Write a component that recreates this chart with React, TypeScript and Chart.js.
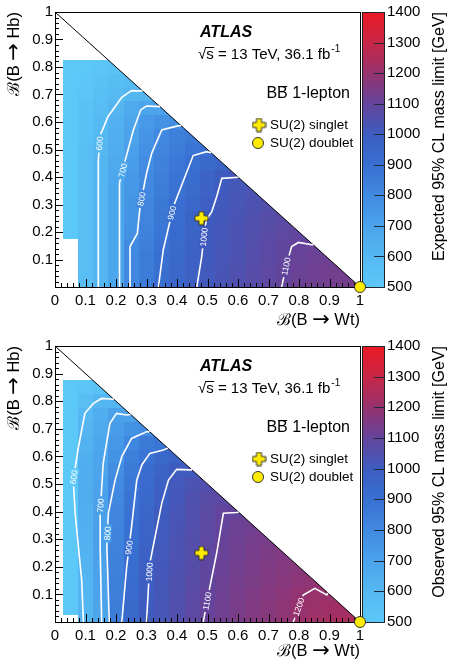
import React, { useEffect, useRef } from "react";
import { Chart, registerables } from "chart.js";

Chart.register(...registerables);

// ---------------- data ----------------
const gridStep = 0.05; // bin centres at multiples of 0.05 on both axes

const xTickValues = [0, 0.1, 0.2, 0.3, 0.4, 0.5, 0.6, 0.7, 0.8, 0.9, 1];
const xTickLabels = ["0", "0.1", "0.2", "0.3", "0.4", "0.5", "0.6", "0.7", "0.8", "0.9", "1"];
const yTickValues = [0.1, 0.2, 0.3, 0.4, 0.5, 0.6, 0.7, 0.8, 0.9, 1];
const yTickLabels = ["0.1", "0.2", "0.3", "0.4", "0.5", "0.6", "0.7", "0.8", "0.9", "1"];
const zTickValues = [500, 600, 700, 800, 900, 1000, 1100, 1200, 1300, 1400];

// Expected limit [GeV]; row k is B(B->Hb) = 0.05*k, entries start at B(B->Wt) = 0
const expectedRows: (number | null)[][] = [
  [null, null, 560, 612, 686, 804, 858, 909, 948, 988, 1012, 1030, 1049, 1067, 1085, 1102, 1115, 1124, 1130, 1133, 1135],
  [null, null, 560, 612, 686, 805, 855, 904, 943, 982, 1010, 1029, 1048, 1066, 1083, 1099, 1113, 1122, 1127, 1130],
  [null, null, 560, 612, 686, 804, 852, 900, 938, 977, 1007, 1025, 1043, 1060, 1077, 1095, 1108, 1116, 1120],
  [null, null, 560, 612, 686, 800, 845, 891, 932, 972, 1005, 1022, 1039, 1056, 1073, 1090, 1103, 1108],
  [null, 480, 560, 612, 686, 767, 829, 878, 924, 966, 1003, 1020, 1036, 1052, 1068, 1082, 1090],
  [null, 480, 560, 612, 686, 762, 824, 871, 917, 958, 1000, 1016, 1032, 1047, 1062, 1075],
  [null, 480, 560, 612, 686, 757, 818, 864, 908, 945, 983, 1010, 1026, 1040, 1055],
  [null, 480, 560, 612, 686, 750, 808, 850, 892, 932, 972, 1008, 1022, 1035],
  [null, 480, 560, 610, 680, 742, 802, 841, 880, 919, 960, 1000, 1015],
  [null, 480, 560, 608, 667, 727, 790, 831, 868, 904, 935, 960],
  [null, 480, 555, 605, 658, 712, 775, 815, 850, 880, 895],
  [null, 480, 545, 594, 645, 700, 760, 805, 840, 860],
  [null, 480, 540, 585, 632, 685, 735, 770, 790],
  [null, 480, 530, 570, 615, 660, 695, 700],
  [null, 480, 520, 555, 585, 610, 620],
  [null, 480, 510, 540, 565, 580],
  [null, 480, 500, 520, 540],
];

// Observed limit [GeV]
const observedRows: (number | null)[][] = [
  [null, null, 612, 695, 854, 938, 1000, 1027, 1054, 1081, 1105, 1126, 1144, 1162, 1171, 1189, 1206, 1220, 1230, 1238, 1242],
  [null, 480, 612, 695, 855, 935, 998, 1025, 1052, 1078, 1104, 1124, 1141, 1158, 1168, 1184, 1201, 1210, 1218, 1222],
  [null, 480, 614, 698, 848, 928, 993, 1022, 1048, 1073, 1098, 1120, 1137, 1152, 1164, 1178, 1193, 1203, 1202],
  [null, 480, 616, 700, 840, 920, 990, 1020, 1045, 1068, 1093, 1116, 1132, 1146, 1158, 1170, 1180, 1188],
  [null, 480, 620, 705, 834, 912, 985, 1017, 1042, 1064, 1088, 1111, 1128, 1142, 1153, 1163, 1170],
  [null, 480, 625, 708, 830, 904, 973, 1012, 1038, 1060, 1084, 1108, 1124, 1137, 1148, 1156],
  [null, 480, 633, 709, 828, 900, 963, 1008, 1035, 1058, 1081, 1104, 1120, 1132, 1140],
  [null, 480, 640, 708, 825, 896, 955, 1005, 1030, 1055, 1078, 1101, 1116, 1126],
  [null, 480, 645, 708, 818, 891, 945, 998, 1025, 1050, 1075, 1098, 1100],
  [null, 480, 650, 705, 808, 885, 937, 990, 1018, 1045, 1068, 1080],
  [null, 480, 650, 698, 802, 875, 930, 980, 1012, 1035, 1050],
  [null, 480, 648, 695, 790, 860, 920, 965, 1000, 1005],
  [null, 480, 640, 690, 770, 840, 890, 935, 960],
  [null, 480, 625, 680, 750, 812, 860, 880],
  [null, 480, 612, 668, 730, 770, 790],
  [null, 480, 600, 650, 705, 710],
  [null, 480, 560, 605, 610],
  [null, 480, 520, 540],
];

// contour lines: [B(B->Wt), B(B->Hb)] points
const expectedContour600 = [[0.142, 0], [0.142, 0.2], [0.142, 0.46], [0.148, 0.55], [0.174, 0.62], [0.219, 0.69], [0.251, 0.714], [0.287, 0.713]];
const expectedContour700 = [[0.21, 0], [0.21, 0.135], [0.213, 0.378], [0.23, 0.46], [0.257, 0.571], [0.281, 0.644], [0.3, 0.658], [0.344, 0.656]];
const expectedContour800 = [[0.246, 0], [0.246, 0.147], [0.27, 0.195], [0.279, 0.292], [0.3, 0.413], [0.317, 0.486], [0.35, 0.571], [0.399, 0.585], [0.413, 0.587]];
const expectedContour900 = [[0.339, 0], [0.355, 0.135], [0.388, 0.292], [0.426, 0.401], [0.453, 0.478], [0.497, 0.492], [0.512, 0.488]];
const expectedContour1000 = [[0.465, 0], [0.481, 0.11], [0.492, 0.22], [0.497, 0.244], [0.514, 0.274], [0.53, 0.328], [0.547, 0.395], [0.59, 0.398], [0.601, 0.399]];
const expectedContour1100 = [[0.743, 0], [0.76, 0.086], [0.776, 0.147], [0.798, 0.162], [0.847, 0.153]];

const observedContour600 = [[0.093, 0], [0.0875, 0.152], [0.066, 0.394], [0.06, 0.514], [0.077, 0.635], [0.098, 0.756], [0.126, 0.792], [0.153, 0.81], [0.193, 0.807]];
const observedContour700 = [[0.153, 0], [0.148, 0.273], [0.148, 0.394], [0.158, 0.575], [0.18, 0.72], [0.202, 0.756], [0.235, 0.75], [0.248, 0.752]];
const observedContour800 = [[0.178, 0], [0.17, 0.273], [0.175, 0.394], [0.197, 0.514], [0.219, 0.599], [0.251, 0.665], [0.3, 0.689], [0.31, 0.69]];
const observedContour900 = [[0.219, 0], [0.235, 0.2], [0.251, 0.345], [0.268, 0.514], [0.285, 0.57], [0.311, 0.611], [0.355, 0.623], [0.37, 0.63]];
const observedContour1000 = [[0.3, 0], [0.311, 0.213], [0.35, 0.43], [0.372, 0.514], [0.399, 0.553], [0.443, 0.551], [0.449, 0.551]];
const observedContour1100 = [[0.486, 0], [0.508, 0.128], [0.53, 0.249], [0.552, 0.394], [0.596, 0.397], [0.602, 0.398]];
const observedContour1200 = [[0.781, 0], [0.814, 0.098], [0.852, 0.122], [0.891, 0.098], [0.895, 0.105]];

// contour label anchor points [level, x, y]
const expectedLabels = [[600, 0.137, 0.523], [700, 0.219, 0.425], [800, 0.276, 0.322], [900, 0.366, 0.274], [1000, 0.478, 0.183], [1100, 0.738, 0.08]];
const observedLabels = [[600, 0.049, 0.527], [700, 0.126, 0.424], [800, 0.175, 0.321], [900, 0.219, 0.273], [1000, 0.3, 0.182], [1100, 0.481, 0.08], [1200, 0.781, 0.062]];

const singletPoint = [0.48, 0.25];
const doubletPoint = [1, 0];

// ---------------- styles ----------------
const paletteStops: [number, number[]][] = [
  [500, [92, 200, 248]],
  [600, [85, 184, 242]],
  [700, [75, 163, 235]],
  [800, [65, 138, 225]],
  [900, [56, 112, 210]],
  [1000, [62, 92, 192]],
  [1100, [100, 68, 155]],
  [1200, [150, 50, 110]],
  [1300, [200, 38, 70]],
  [1400, [235, 25, 35]],
];
const FONT = '"Liberation Sans", Arial, Helvetica, sans-serif';
const ARROW_FONT = '"DejaVu Sans", sans-serif';

function colorFor(v: number): string {
  const c = Math.max(500, Math.min(1400, v));
  for (let k = 0; k < paletteStops.length - 1; k++) {
    const [v0, c0] = paletteStops[k];
    const [v1, c1] = paletteStops[k + 1];
    if (c <= v1) {
      const t = (c - v0) / (v1 - v0);
      const r = Math.round(c0[0] + t * (c1[0] - c0[0]));
      const g = Math.round(c0[1] + t * (c1[1] - c0[1]));
      const b = Math.round(c0[2] + t * (c1[2] - c0[2]));
      return `rgb(${r},${g},${b})`;
    }
  }
  return "rgb(235,25,35)";
}

function makeCross(): HTMLCanvasElement {
  const size = 13;
  const arm = 5;
  const c = document.createElement("canvas");
  c.width = size + 2;
  c.height = size + 2;
  const g = c.getContext("2d")!;
  const o = 1;
  const m = (size - arm) / 2;
  g.beginPath();
  g.moveTo(o + m, o);
  g.lineTo(o + m + arm, o);
  g.lineTo(o + m + arm, o + m);
  g.lineTo(o + size, o + m);
  g.lineTo(o + size, o + m + arm);
  g.lineTo(o + m + arm, o + m + arm);
  g.lineTo(o + m + arm, o + size);
  g.lineTo(o + m, o + size);
  g.lineTo(o + m, o + m + arm);
  g.lineTo(o, o + m + arm);
  g.lineTo(o, o + m);
  g.lineTo(o + m, o + m);
  g.closePath();
  g.fillStyle = "#ffec00";
  g.fill();
  g.strokeStyle = "#333";
  g.lineWidth = 1;
  g.stroke();
  return c;
}

// draws "ℬ(B → XX)" right-aligned at (0,0) in the current transform
function drawBranchTitle(ctx: CanvasRenderingContext2D, decay: string) {
  const runs = [
    { t: "\u212C(B ", f: `16.5px ${FONT}` },
    { t: "\u2192", f: `21px ${ARROW_FONT}` },
    { t: " " + decay + ")", f: `16.5px ${FONT}` },
  ];
  let total = 0;
  const widths = runs.map((r) => {
    ctx.font = r.f;
    const w = ctx.measureText(r.t).width;
    total += w;
    return w;
  });
  let x = -total;
  ctx.textAlign = "left";
  ctx.textBaseline = "middle";
  runs.forEach((r, k) => {
    ctx.font = r.f;
    ctx.fillText(r.t, x, k === 1 ? 0.5 : 0);
    x += widths[k];
  });
}

type Panel = {
  rows: (number | null)[][];
  contours: { level: number; pts: number[][] }[];
  labels: number[][];
  zTitle: string;
  height: number;
  padBottom: number;
  xTitleY: number;
};

function valueAt(rows: (number | null)[][], x: number, y: number): number {
  const i = Math.min(rows.length - 1, Math.max(0, Math.round(y / gridStep)));
  const row = rows[i];
  const j = Math.min(row.length - 1, Math.max(0, Math.round(x / gridStep)));
  const v = row[j];
  return v == null ? 500 : v;
}

function makePlugin(panel: Panel, cross: HTMLCanvasElement) {
  return {
    id: "atlasPanel",
    beforeDatasetsDraw(chart: any) {
      const { ctx, chartArea: ca, scales } = chart;
      const xs = scales.x;
      const ys = scales.y;
      const zs = scales.z;
      // heat map cells
      ctx.save();
      ctx.beginPath();
      ctx.moveTo(xs.getPixelForValue(0), ys.getPixelForValue(0));
      ctx.lineTo(xs.getPixelForValue(1), ys.getPixelForValue(0));
      ctx.lineTo(xs.getPixelForValue(0), ys.getPixelForValue(1));
      ctx.closePath();
      ctx.clip();
      panel.rows.forEach((row, i) => {
        const yc = i * gridStep;
        row.forEach((v, j) => {
          if (v == null) return;
          const xc = j * gridStep;
          const x0 = Math.round(xs.getPixelForValue(Math.max(0, xc - gridStep / 2)));
          const x1 = Math.round(xs.getPixelForValue(Math.min(1, xc + gridStep / 2)));
          const y0 = Math.round(ys.getPixelForValue(Math.min(1, yc + gridStep / 2)));
          const y1 = Math.round(ys.getPixelForValue(Math.max(0, yc - gridStep / 2)));
          ctx.fillStyle = colorFor(v);
          ctx.fillRect(x0, y0, x1 - x0, y1 - y0);
        });
      });
      ctx.restore();

      ctx.save();
      // diagonal
      ctx.strokeStyle = "#000";
      ctx.lineWidth = 1;
      ctx.beginPath();
      ctx.moveTo(xs.getPixelForValue(0), ys.getPixelForValue(1));
      ctx.lineTo(xs.getPixelForValue(1), ys.getPixelForValue(0));
      ctx.stroke();
      // frame
      ctx.strokeRect(Math.round(ca.left) + 0.5, Math.round(ca.top) + 0.5, Math.round(ca.right - ca.left), Math.round(ca.bottom - ca.top));
      // ticks
      ctx.beginPath();
      for (let k = 0; k <= 50; k++) {
        const v = k * 0.02;
        const major = k % 5 === 0;
        const len = major ? 8 : 4;
        const px = Math.round(xs.getPixelForValue(v)) + 0.5;
        ctx.moveTo(px, ca.bottom);
        ctx.lineTo(px, ca.bottom - len);
        const py = Math.round(ys.getPixelForValue(v)) + 0.5;
        ctx.moveTo(ca.left, py);
        ctx.lineTo(ca.left + len, py);
      }
      ctx.stroke();

      // tick labels
      ctx.fillStyle = "#000";
      ctx.font = `15px ${FONT}`;
      ctx.textAlign = "center";
      ctx.textBaseline = "middle";
      xTickValues.forEach((v, k) => {
        ctx.fillText(xTickLabels[k], xs.getPixelForValue(v), ca.bottom + 14);
      });
      ctx.textAlign = "right";
      yTickValues.forEach((v, k) => {
        ctx.fillText(yTickLabels[k], ca.left - 2, ys.getPixelForValue(v));
      });

      // axis titles
      ctx.save();
      ctx.translate(ca.right, panel.xTitleY);
      drawBranchTitle(ctx, "Wt");
      ctx.restore();
      ctx.save();
      ctx.translate(14, ca.top);
      ctx.rotate(-Math.PI / 2);
      drawBranchTitle(ctx, "Hb");
      ctx.restore();

      // colour bar
      const cbL = ca.right + 2;
      const cbR = ca.right + 24;
      const zTop = zs.getPixelForValue(1400);
      const zBot = zs.getPixelForValue(500);
      const grad = ctx.createLinearGradient(0, zBot, 0, zTop);
      paletteStops.forEach(([v, c]) => grad.addColorStop((v - 500) / 900, `rgb(${c[0]},${c[1]},${c[2]})`));
      ctx.fillStyle = grad;
      ctx.fillRect(cbL, zTop, cbR - cbL, zBot - zTop);
      ctx.strokeStyle = "#222";
      ctx.strokeRect(cbL + 0.5, Math.round(zTop) + 0.5, cbR - cbL, Math.round(zBot - zTop));
      ctx.beginPath();
      zTickValues.forEach((v) => {
        const py = Math.round(zs.getPixelForValue(v)) + 0.5;
        ctx.moveTo(cbR, py);
        ctx.lineTo(cbR - 10, py);
      });
      ctx.strokeStyle = "#1c2a3c";
      ctx.stroke();
      ctx.fillStyle = "#000";
      ctx.font = `15px ${FONT}`;
      ctx.textAlign = "left";
      ctx.textBaseline = "middle";
      zTickValues.forEach((v) => {
        ctx.fillText(String(v), cbR + 3, zs.getPixelForValue(v));
      });
      ctx.font = `16px ${FONT}`;
      ctx.save();
      ctx.translate(440, ca.top);
      ctx.rotate(-Math.PI / 2);
      ctx.textAlign = "right";
      ctx.fillText(panel.zTitle, 0, 0);
      ctx.restore();

      // texts
      const t0 = ca.top;
      ctx.textAlign = "left";
      ctx.textBaseline = "middle";
      ctx.font = `italic bold 16px ${FONT}`;
      ctx.fillText("ATLAS", 200, t0 + 21);
      ctx.font = `15px ${FONT}`;
      const sx = 198;
      const sy = t0 + 43;
      const rootW = ctx.measureText("\u221A").width;
      const sW = ctx.measureText("s").width;
      ctx.fillText("\u221A", sx, sy);
      ctx.beginPath();
      ctx.moveTo(sx + rootW - 1, sy - 7.5);
      ctx.lineTo(sx + rootW + sW + 0.5, sy - 7.5);
      ctx.lineWidth = 1;
      ctx.strokeStyle = "#000";
      ctx.stroke();
      const mainTxt = "s = 13 TeV, 36.1 fb";
      ctx.fillText(mainTxt, sx + rootW, sy);
      const mw = ctx.measureText(mainTxt).width;
      ctx.font = `10px ${FONT}`;
      ctx.fillText("-1", sx + rootW + mw + 1, sy - 6);

      ctx.font = `16px ${FONT}`;
      const bbTxt = "BB 1-lepton";
      const bbW = ctx.measureText(bbTxt).width;
      const bW = ctx.measureText("B").width;
      const bx = 350 - bbW;
      const by = t0 + 82;
      ctx.fillText(bbTxt, bx, by);
      ctx.beginPath();
      ctx.moveTo(bx + bW + 1, by - 7.5);
      ctx.lineTo(bx + 2 * bW - 0.5, by - 7.5);
      ctx.stroke();

      // legend
      ctx.font = `13.5px ${FONT}`;
      ctx.drawImage(cross, 259 - cross.width / 2, t0 + 113 - cross.height / 2);
      ctx.fillText("SU(2) singlet", 270, t0 + 113);
      ctx.beginPath();
      ctx.arc(258, t0 + 131, 5.5, 0, Math.PI * 2);
      ctx.fillStyle = "#ffec00";
      ctx.fill();
      ctx.strokeStyle = "#333";
      ctx.stroke();
      ctx.fillStyle = "#000";
      ctx.fillText("SU(2) doublet", 270, t0 + 131);
      ctx.restore();
    },
    beforeDatasetDraw(chart: any, args: any) {
      if (args.meta.label !== "singlet") return;
      const { ctx, scales } = chart;
      const xs = scales.x;
      const ys = scales.y;
      ctx.save();
      panel.labels.forEach(([lv, lx, ly]) => {
        const c = panel.contours.find((cc) => cc.level === lv);
        if (!c) return;
        // project label anchor on the contour polyline (pixel space)
        const ax = xs.getPixelForValue(lx);
        const ay = ys.getPixelForValue(ly);
        let best = { d: Infinity, px: ax, py: ay, ang: -Math.PI / 2 };
        for (let k = 0; k < c.pts.length - 1; k++) {
          const x0 = xs.getPixelForValue(c.pts[k][0]);
          const y0 = ys.getPixelForValue(c.pts[k][1]);
          const x1 = xs.getPixelForValue(c.pts[k + 1][0]);
          const y1 = ys.getPixelForValue(c.pts[k + 1][1]);
          const dx = x1 - x0;
          const dy = y1 - y0;
          const L2 = dx * dx + dy * dy || 1;
          const t = Math.max(0, Math.min(1, ((ax - x0) * dx + (ay - y0) * dy) / L2));
          const qx = x0 + t * dx;
          const qy = y0 + t * dy;
          const d = (qx - ax) ** 2 + (qy - ay) ** 2;
          if (d < best.d) best = { d, px: qx, py: qy, ang: Math.atan2(dy, dx) };
        }
        let ang = best.ang;
        if (ang > Math.PI / 2) ang -= Math.PI;
        if (ang < -Math.PI / 2) ang += Math.PI;
        if (ang > 0) ang -= Math.PI;
        ctx.save();
        ctx.translate(best.px, best.py);
        ctx.rotate(ang);
        ctx.font = `8.5px ${FONT}`;
        const txt = String(lv);
        const w = ctx.measureText(txt).width;
        ctx.fillStyle = colorFor(valueAt(panel.rows, xs.getValueForPixel(best.px), ys.getValueForPixel(best.py)));
        ctx.fillRect(-w / 2 - 2, -4, w + 4, 8);
        ctx.fillStyle = "#fff";
        ctx.textAlign = "center";
        ctx.textBaseline = "middle";
        ctx.fillText(txt, 0, 0.5);
        ctx.restore();
      });
      ctx.restore();
    },
  };
}

function PanelChart({ panel }: { panel: Panel }) {
  const ref = useRef<HTMLCanvasElement | null>(null);
  useEffect(() => {
    const canvas = ref.current;
    if (!canvas) return;
    const cross = makeCross();
    const chart = new Chart(canvas, {
      type: "scatter",
      data: {
        datasets: [
          {
            label: "singlet",
            data: [{ x: singletPoint[0], y: singletPoint[1] }],
            pointStyle: cross as any,
            pointRadius: 7,
            order: 0,
            clip: false as any,
          },
          {
            label: "doublet",
            data: [{ x: doubletPoint[0], y: doubletPoint[1] }],
            pointStyle: "circle",
            pointRadius: 5.5,
            backgroundColor: "#ffec00",
            borderColor: "#333",
            borderWidth: 1,
            order: 0,
            clip: false as any,
          },
          ...panel.contours.map((c) => ({
            label: "contour " + c.level,
            data: c.pts.map(([x, y]) => ({ x, y })),
            showLine: true,
            borderColor: "#ffffff",
            borderWidth: 1.6,
            pointRadius: 0,
            fill: false,
            order: 1,
          })),
        ],
      },
      options: {
        responsive: false,
        animation: false,
        devicePixelRatio: 1,
        events: [],
        layout: { padding: { left: 55, right: 93, top: 12, bottom: panel.padBottom } },
        scales: {
          x: { type: "linear", min: 0, max: 1, display: false },
          y: { type: "linear", min: 0, max: 1, display: false },
          z: { type: "linear", axis: "y", position: "right", min: 500, max: 1400, display: false } as any,
        },
        plugins: { legend: { display: false }, tooltip: { enabled: false } },
      },
      plugins: [makePlugin(panel, cross)],
    });
    return () => chart.destroy();
  }, [panel]);
  return <canvas ref={ref} width={453} height={panel.height} style={{ display: "block", width: 453, height: panel.height }} />;
}

const expectedPanel: Panel = {
  rows: expectedRows,
  contours: [
    { level: 600, pts: expectedContour600 },
    { level: 700, pts: expectedContour700 },
    { level: 800, pts: expectedContour800 },
    { level: 900, pts: expectedContour900 },
    { level: 1000, pts: expectedContour1000 },
    { level: 1100, pts: expectedContour1100 },
  ],
  labels: expectedLabels,
  zTitle: "Expected 95% CL mass limit [GeV]",
  height: 334,
  padBottom: 47,
  xTitleY: 320,
};

const observedPanel: Panel = {
  rows: observedRows,
  contours: [
    { level: 600, pts: observedContour600 },
    { level: 700, pts: observedContour700 },
    { level: 800, pts: observedContour800 },
    { level: 900, pts: observedContour900 },
    { level: 1000, pts: observedContour1000 },
    { level: 1100, pts: observedContour1100 },
    { level: 1200, pts: observedContour1200 },
  ],
  labels: observedLabels,
  zTitle: "Observed 95% CL mass limit [GeV]",
  height: 333,
  padBottom: 45,
  xTitleY: 317,
};

export default function App() {
  useEffect(() => {
    document.body.style.margin = "0";
  }, []);
  return (
    <div style={{ position: "absolute", left: 0, top: 0, width: 453, height: 667, background: "#fff" }}>
      <PanelChart panel={expectedPanel} />
      <PanelChart panel={observedPanel} />
    </div>
  );
}
